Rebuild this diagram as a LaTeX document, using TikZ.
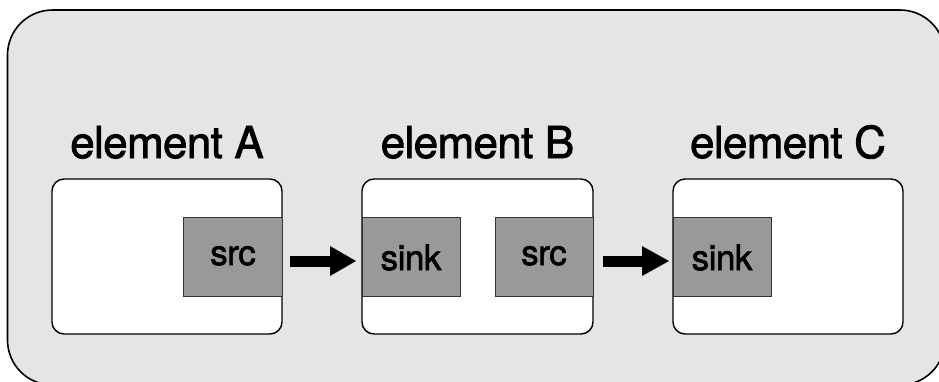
\documentclass[tikz,border=0pt]{standalone}
\usepackage{fontspec}
\setmainfont{TeX Gyre Heros}[FakeBold=1.8,LetterSpace=-1.5]
\begin{document}
\begin{tikzpicture}[x=1pt,y=-1pt,
  outerbox/.style={draw=black,line width=1.6pt,fill=outerfill,rounded corners=45pt},
  elembox/.style={draw=black,line width=1.4pt,fill=white,rounded corners=12pt},
  portbox/.style={draw=black!80,line width=1pt,fill=portfill},
  elabel/.style={anchor=base,inner sep=0pt,font=\fontsize{44}{50}\selectfont},
  plabel/.style={anchor=base,inner sep=0pt,font=\fontsize{35}{40}\selectfont}
]
\definecolor{outerfill}{HTML}{E5E5E5}
\definecolor{portfill}{HTML}{999999}
\useasboundingbox (0,0) rectangle (939,381);
\begin{scope}
\clip (0,0) rectangle (939,381);
\draw[outerbox] (7.5,10) rectangle (945,385);
\end{scope}
% elements
\draw[elembox] (52,179) rectangle (282,334);
\draw[elembox] (362,179) rectangle (593,334);
\draw[elembox] (673,179) rectangle (903,334);
% ports
\node[portbox,minimum width=99pt,minimum height=79pt,inner sep=0pt] (srcA) at (232.5,256.5) {};
\node[portbox,minimum width=98pt,minimum height=79pt,inner sep=0pt] (sinkB) at (411,256.5) {};
\node[portbox,minimum width=98pt,minimum height=79pt,inner sep=0pt] (srcB) at (544,256.5) {};
\node[portbox,minimum width=98pt,minimum height=79pt,inner sep=0pt] (sinkC) at (722,256.5) {};
\node[plabel] (tsrcA) at (233,265) {src};
\node[plabel] (tsinkB) at (411,270) {sink};
\node[plabel] (tsrcB) at (544,265) {src};
\node[plabel] (tsinkC) at (722,270) {sink};
% labels
\node[elabel] (lA) at (167,158) {element A};
\node[elabel] (lB) at (477.5,158) {element B};
\node[elabel] (lC) at (788,158) {element C};
% arrows
\coordinate (a1s) at (290,261);
\coordinate (a2s) at (603,261);
\draw[line width=11pt] (a1s) -- (331,261);
\fill (330,246) -- (356,261) -- (330,276) -- cycle;
\draw[line width=11pt] (a2s) -- (643,261);
\fill (642,246) -- (669,261) -- (642,276) -- cycle;
\end{tikzpicture}
\end{document}
